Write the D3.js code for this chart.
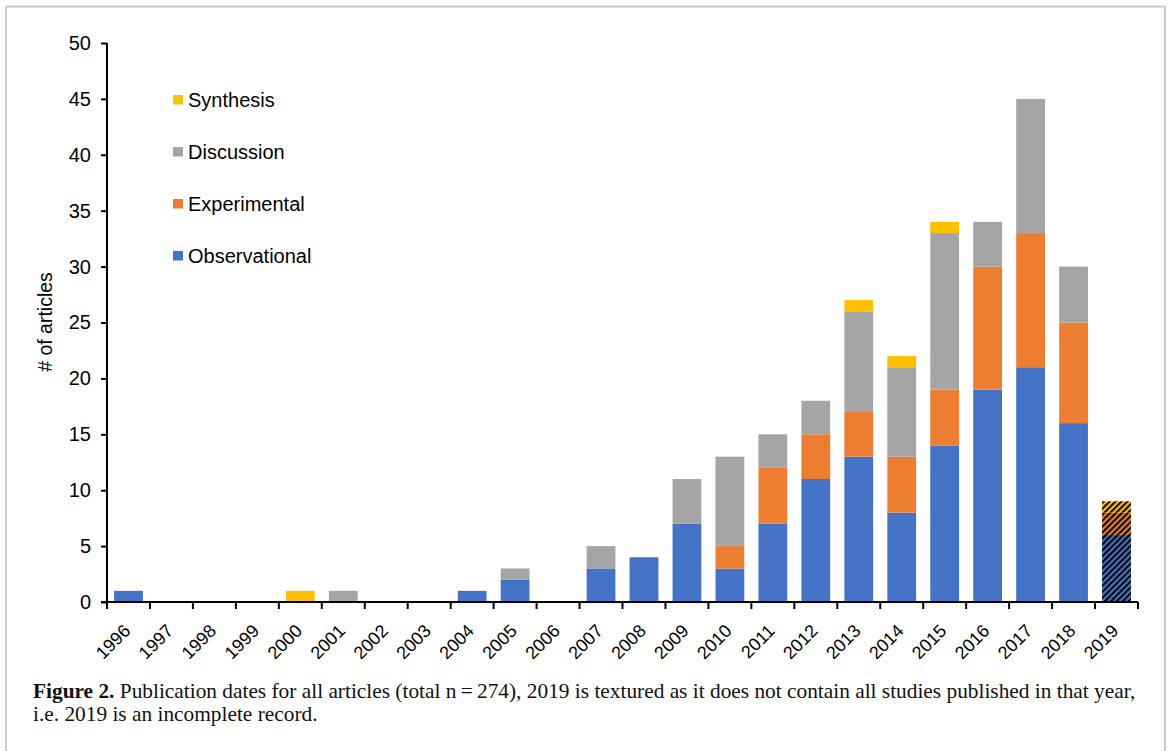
<!DOCTYPE html>
<html>
<head>
<meta charset="utf-8">
<script src="https://cdn.jsdelivr.net/npm/d3@7"></script>
<style>
  html, body { margin: 0; padding: 0; background: #fff; }
  svg { display: block; }
</style>
</head>
<body>
<svg id="chart" width="1168" height="751"></svg>
<script>
// Publication counts per year, split by study type
const years = ["1996","1997","1998","1999","2000","2001","2002","2003","2004","2005","2006","2007",
               "2008","2009","2010","2011","2012","2013","2014","2015","2016","2017","2018","2019"];
const observational = [1,0,0,0,0,0,0,0,1,2,0,3,4,7,3,7,11,13,8,14,19,21,16,6];
const experimental  = [0,0,0,0,0,0,0,0,0,0,0,0,0,0,2,5,4,4,5,5,11,12,9,2];
const discussion    = [0,0,0,0,0,1,0,0,0,1,0,2,0,4,8,3,3,9,8,14,4,12,5,0];
const synthesis     = [0,0,0,0,1,0,0,0,0,0,0,0,0,0,0,0,0,1,1,1,0,0,0,1];
const yTicks = [0,5,10,15,20,25,30,35,40,45,50];
const incompleteYear = "2019";

const seriesNames = ["Observational","Experimental","Discussion","Synthesis"];
const colors = {
  Observational: "#4472c4",
  Experimental: "#ed7d31",
  Discussion: "#a5a5a5",
  Synthesis: "#ffc000"
};

const table = years.map((y, i) => ({
  year: y,
  Observational: observational[i],
  Experimental: experimental[i],
  Discussion: discussion[i],
  Synthesis: synthesis[i]
}));

const svg = d3.select("#chart");
const sans = "Liberation Sans, Arial, Helvetica, sans-serif";

// outer frame of the figure panel
svg.append("rect")
  .attr("x", 6).attr("y", 6.5)
  .attr("width", 1159).attr("height", 770)
  .attr("fill", "none").attr("stroke", "#cbcbcb").attr("stroke-width", 2);

const plotLeft = 107, plotRight = 1138, plotTop = 43, plotBottom = 602;

const x = d3.scaleBand().domain(years).range([plotLeft, plotRight])
  .paddingInner(0.33).paddingOuter(0.165);
const y = d3.scaleLinear().domain([0, 50]).range([plotBottom, plotTop]);

// diagonal hatch for the incomplete year
const defs = svg.append("defs");
const hatch = defs.append("pattern")
  .attr("id", "hatch")
  .attr("patternUnits", "userSpaceOnUse")
  .attr("width", 4.2).attr("height", 4.2)
  .attr("patternTransform", "rotate(45)");
hatch.append("line")
  .attr("x1", 1).attr("y1", 0).attr("x2", 1).attr("y2", 4.2)
  .attr("stroke", "#000").attr("stroke-width", 2);

const stack = d3.stack().keys(seriesNames)(table);

const groups = svg.append("g").selectAll("g")
  .data(stack).join("g")
  .attr("fill", d => colors[d.key]);

groups.selectAll("rect.bar")
  .data(d => d.filter(p => p[1] - p[0] > 0))
  .join("rect")
  .attr("class", "bar")
  .attr("x", d => x(d.data.year))
  .attr("width", x.bandwidth())
  .attr("y", d => y(d[1]))
  .attr("height", d => y(d[0]) - y(d[1]));

// hatch overlay on the incomplete year
groups.selectAll("rect.hatch")
  .data(d => d.filter(p => p[1] - p[0] > 0 && p.data.year === incompleteYear))
  .join("rect")
  .attr("class", "hatch")
  .attr("x", d => x(d.data.year))
  .attr("width", x.bandwidth())
  .attr("y", d => y(d[1]))
  .attr("height", d => y(d[0]) - y(d[1]))
  .attr("fill", "url(#hatch)");

// y axis
const yAxis = d3.axisLeft(y).tickValues(yTicks).tickSize(6).tickPadding(10);
const gy = svg.append("g").attr("transform", `translate(${plotLeft},0)`).call(yAxis);
gy.select(".domain").attr("stroke", "#000").attr("stroke-width", 2)
  .attr("d", `M0,${plotTop}V${plotBottom}`);
gy.selectAll(".tick line").attr("stroke", "#000").attr("stroke-width", 2);
gy.selectAll(".tick text")
  .attr("font-family", sans)
  .attr("font-size", 20).attr("fill", "#000");

// x axis with ticks on category boundaries
const gx = svg.append("g").attr("transform", `translate(0,${plotBottom})`);
gx.append("line")
  .attr("x1", plotLeft - 6).attr("x2", plotRight)
  .attr("stroke", "#000").attr("stroke-width", 2);
const boundaries = d3.range(years.length + 1).map(i => plotLeft + i * x.step());
gx.selectAll("line.tk").data(boundaries).join("line")
  .attr("class", "tk")
  .attr("x1", d => d).attr("x2", d => d)
  .attr("y1", 0).attr("y2", 7)
  .attr("stroke", "#000").attr("stroke-width", 2);

gx.selectAll("text").data(years).join("text")
  .attr("transform", d => `translate(${x(d) + x.bandwidth() / 2 + 3},${30}) rotate(-45)`)
  .attr("text-anchor", "end")
  .attr("font-family", sans)
  .attr("font-size", 18).attr("fill", "#000")
  .text(d => d);

// y axis title
svg.append("text")
  .attr("transform", `translate(52,${322}) rotate(-90)`)
  .attr("text-anchor", "middle")
  .attr("font-family", sans)
  .attr("font-size", 19.5).attr("fill", "#000")
  .text("# of articles");

// legend
const legendOrder = ["Synthesis","Discussion","Experimental","Observational"];
const lg = svg.append("g").selectAll("g").data(legendOrder).join("g")
  .attr("transform", (d, i) => `translate(173,${100 + i * 52})`);
lg.append("rect")
  .attr("x", 0).attr("y", -5).attr("width", 10).attr("height", 9.5)
  .attr("fill", d => colors[d]);
lg.append("text")
  .attr("x", 15).attr("dy", "0.35em")
  .attr("font-family", sans)
  .attr("font-size", 20).attr("fill", "#000")
  .text(d => d);

// caption
const cap = svg.append("text")
  .attr("font-family", "Liberation Serif, Times New Roman, serif")
  .attr("font-size", 21.35).attr("fill", "#111");
const l1 = cap.append("tspan").attr("x", 33).attr("y", 698);
l1.append("tspan").attr("font-weight", "bold").text("Figure 2.");
l1.append("tspan").text(" Publication dates for all articles (total n\u2009=\u2009274), 2019 is textured as it does not contain all studies published in that year,");
cap.append("tspan").attr("x", 33).attr("y", 721)
  .text("i.e. 2019 is an incomplete record.");
</script>
</body>
</html>
